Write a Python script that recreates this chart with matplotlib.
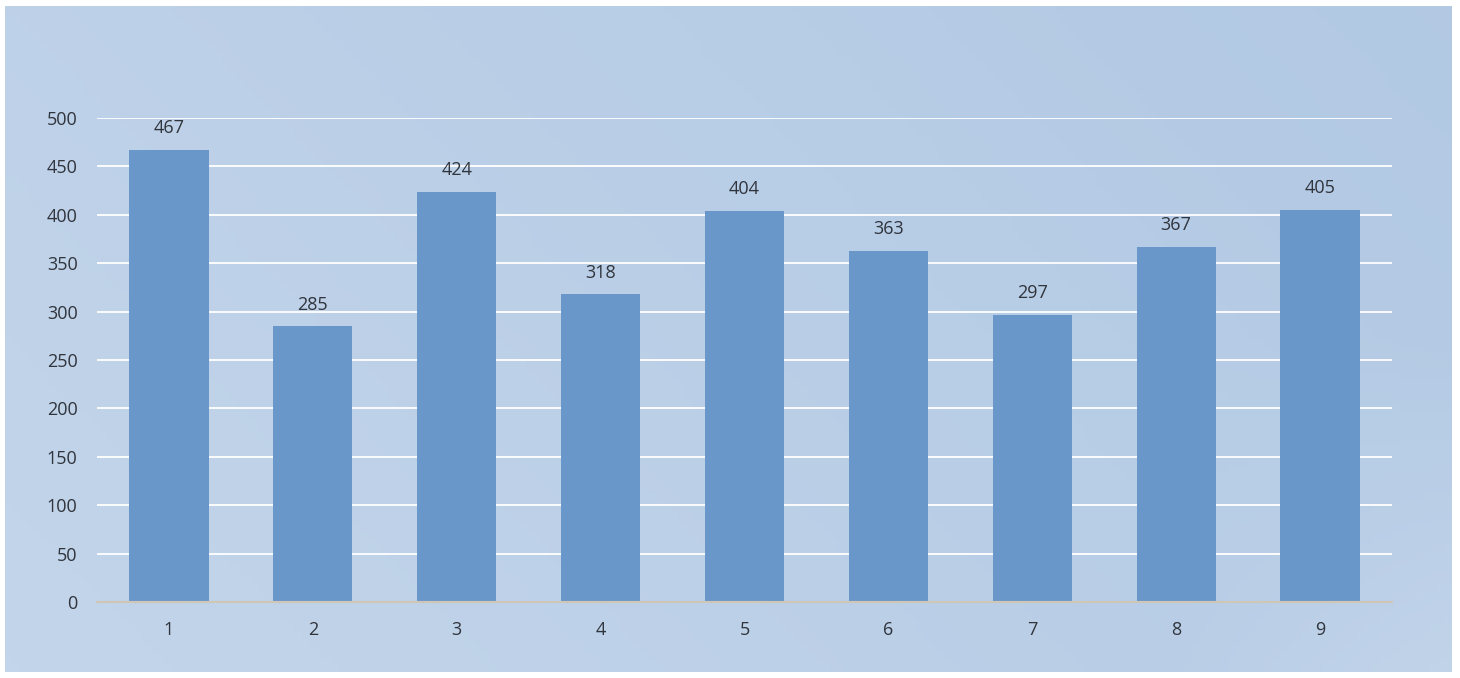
import numpy as np
import matplotlib
matplotlib.use("Agg")
import matplotlib.pyplot as plt
from matplotlib.colors import LinearSegmentedColormap

categories = ["1", "2", "3", "4", "5", "6", "7", "8", "9"]
values = [467, 285, 424, 318, 404, 363, 297, 367, 405]
yticks = [0, 50, 100, 150, 200, 250, 300, 350, 400, 450, 500]

plt.rcParams['font.family'] = ['Open Sans', 'DejaVu Sans']

W, H = 1460, 678
fig = plt.figure(figsize=(W / 100, H / 100), dpi=100, facecolor="white")

# gradient background
bg = fig.add_axes([5 / W, 6 / H, 1447 / W, 666 / H])
bg.set_axis_off()
nx, ny = 200, 100
xx, yy = np.meshgrid(np.linspace(0, 1, nx), np.linspace(0, 1, ny))
t = 0.55 * xx + 0.25 * (1 - yy)
t = t - 0.45 * np.clip(xx - 0.8, 0, None) * np.clip(yy - 0.5, 0, None) * 10
t = np.clip(t, 0, 1)
cmap = LinearSegmentedColormap.from_list("bgc", ["#c3d5ea", "#b8cde6", "#aec6e2"])
bg.imshow(t, cmap=cmap, aspect="auto", extent=[0, 1, 0, 1], origin="upper", vmin=0, vmax=1)
bg.set_xlim(0, 1)
bg.set_ylim(0, 1)

ax = fig.add_axes([97 / W, 1 - 602 / H, (1392 - 97) / W, (602 - 118) / H])
ax.patch.set_alpha(0)
x = np.arange(len(categories))
bars = ax.bar(x, values, width=0.55, color="#6a97c9", zorder=3)
ax.set_xlim(-0.5, len(categories) - 0.5)
ax.set_ylim(0, 500)
ax.set_yticks(yticks)
ax.set_xticks(x)
ax.set_xticklabels(categories)
ax.yaxis.grid(True, color="white", linewidth=1.3, zorder=1)
ax.set_axisbelow(True)
for s in ["top", "right", "left"]:
    ax.spines[s].set_visible(False)
ax.spines["bottom"].set_color("#cfc6b6")
ax.spines["bottom"].set_linewidth(1.5)
ax.spines["bottom"].set_zorder(4)
ax.tick_params(axis="both", length=0, labelsize=13, colors="#30343c")
ax.tick_params(axis="y", pad=14)
ax.tick_params(axis="x", pad=14)
for xi, v in zip(x, values):
    ax.annotate(str(v), (xi, v), xytext=(0, 9), textcoords="offset points",
                ha="center", va="bottom", fontsize=13, color="#30343c", zorder=5)

fig.savefig("out.png", dpi=100, facecolor="white")
